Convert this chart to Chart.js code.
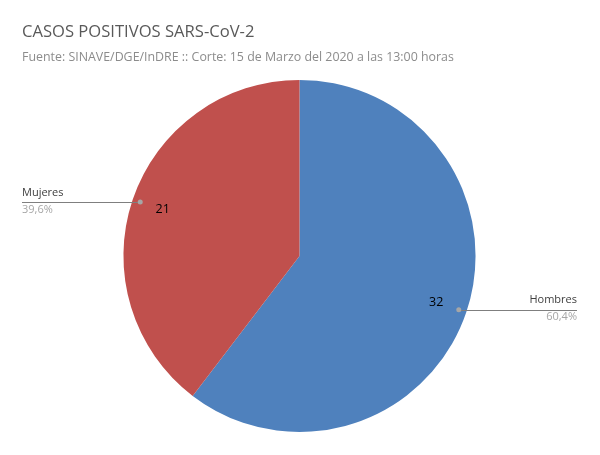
<!DOCTYPE html>
<html lang="es">
<head>
<meta charset="UTF-8">
<title>Casos positivos SARS-CoV-2</title>
<script src="https://cdn.jsdelivr.net/npm/chart.js@4/dist/chart.umd.min.js"></script>
<style>
  html, body { margin: 0; padding: 0; background: #fff; }
  #wrap { width: 600px; height: 455px; position: relative; }
</style>
</head>
<body>
<div id="wrap"><canvas id="myChart" width="600" height="455"></canvas></div>
<script>
// datos
const categorias = ['Hombres', 'Mujeres'];
const casos = [32, 21];
const colores = ['#4F81BD', '#C0504D'];

const FONT = '"Open Sans", "Noto Sans", sans-serif';

function pct(v) {
    let total = casos.reduce((a, b) => a + b, 0);
    return (v / total * 100).toFixed(1).replace('.', ',') + '%';
}

// etiquetas con linea guia, al estilo de Excel
const etiquetas = {
    id: 'etiquetas',
    afterDatasetsDraw(chart) {
        const ctx = chart.ctx;
        const meta = chart.getDatasetMeta(0);
        const area = chart.chartArea;
        meta.data.forEach((arc, i) => {
            const p = arc.getProps(['x', 'y', 'startAngle', 'endAngle', 'outerRadius'], true);
            const mid = (p.startAngle + p.endAngle) / 2;
            const cos = Math.cos(mid), sin = Math.sin(mid);
            const r = p.outerRadius;

            // valor dentro de la rebanada
            ctx.save();
            ctx.font = '12.5px ' + FONT;
            ctx.fillStyle = '#000';
            ctx.textAlign = 'center';
            ctx.textBaseline = 'middle';
            ctx.fillText(String(casos[i]), p.x + cos * r * 0.82, p.y + sin * r * 0.82);

            // punto y linea guia
            const dx = p.x + cos * r * 0.955;
            const dy = p.y + sin * r * 0.955;
            const izquierda = cos < 0;
            const xEnd = izquierda ? area.left : area.right;
            ctx.strokeStyle = '#7f7f7f';
            ctx.lineWidth = 1;
            ctx.beginPath();
            ctx.moveTo(dx, Math.round(dy) + 0.5);
            ctx.lineTo(xEnd, Math.round(dy) + 0.5);
            ctx.stroke();
            ctx.fillStyle = '#a6a6a6';
            ctx.beginPath();
            ctx.arc(dx, dy, 2.5, 0, Math.PI * 2);
            ctx.fill();

            // nombre y porcentaje
            ctx.textAlign = izquierda ? 'left' : 'right';
            ctx.font = '11px ' + FONT;
            ctx.fillStyle = '#404040';
            ctx.textBaseline = 'bottom';
            ctx.fillText(categorias[i], xEnd, dy - 4);
            ctx.fillStyle = '#a6a6a6';
            ctx.textBaseline = 'top';
            ctx.fillText(pct(casos[i]), xEnd, dy + 2);
            ctx.restore();
        });
    }
};

new Chart(document.getElementById('myChart'), {
    type: 'pie',
    data: {
        labels: categorias,
        datasets: [{
            data: casos,
            backgroundColor: colores,
            borderWidth: 0
        }]
    },
    options: {
        responsive: false,
        animation: false,
        layout: { padding: { top: 22, bottom: 23, left: 22, right: 23 } },
        plugins: {
            legend: { display: false },
            tooltip: { enabled: false },
            title: {
                display: true,
                text: 'CASOS POSITIVOS SARS-CoV-2',
                align: 'start',
                color: '#595959',
                font: { family: FONT, size: 16.6, weight: 'normal' },
                padding: { top: 0, bottom: 4.5 }
            },
            subtitle: {
                display: true,
                text: 'Fuente: SINAVE/DGE/InDRE :: Corte: 15 de Marzo del 2020 a las 13:00 horas',
                align: 'start',
                color: '#8c8c8c',
                font: { family: FONT, size: 12.4 },
                padding: { top: 4, bottom: 14.6 }
            }
        }
    },
    plugins: [etiquetas]
});
</script>
</body>
</html>
